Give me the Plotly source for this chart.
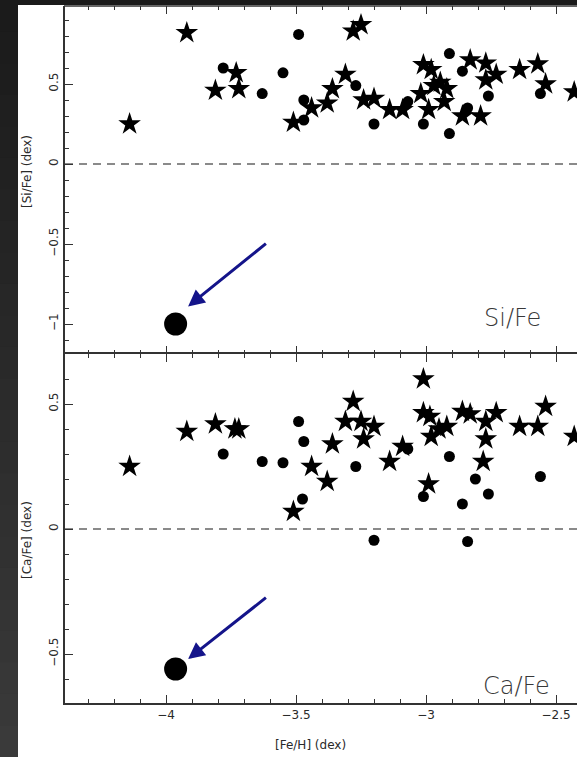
import plotly.graph_objects as go

# ---------------- data ----------------
# [Si/Fe] panel
si_star_feh = [-4.14, -3.92, -3.81, -3.73, -3.72, -3.51, -3.44, -3.38, -3.36, -3.28, -3.25,
               -3.31, -3.24, -3.20, -3.14, -3.09, -3.01, -2.98, -3.02, -2.97, -2.945, -2.92,
               -2.99, -2.93, -2.83, -2.77, -2.73, -2.77, -2.86, -2.79, -2.64, -2.57, -2.54, -2.43]
si_star_val = [0.25, 0.82, 0.46, 0.57, 0.47, 0.26, 0.35, 0.38, 0.47, 0.83, 0.87,
               0.56, 0.40, 0.41, 0.34, 0.34, 0.62, 0.59, 0.44, 0.49, 0.51, 0.47,
               0.34, 0.39, 0.65, 0.63, 0.56, 0.525, 0.30, 0.30, 0.59, 0.625, 0.50, 0.45]
si_circ_feh = [-3.49, -3.78, -3.55, -3.63, -3.47, -3.47, -3.27, -3.20, -3.07, -3.01,
               -2.91, -2.86, -2.91, -2.84, -2.76, -2.56]
si_circ_val = [0.81, 0.60, 0.57, 0.44, 0.40, 0.275, 0.49, 0.25, 0.39, 0.25,
               0.69, 0.58, 0.19, 0.35, 0.425, 0.44]

# [Ca/Fe] panel
ca_star_feh = [-4.14, -3.92, -3.81, -3.735, -3.72, -3.44, -3.38, -3.51, -3.36, -3.28, -3.31,
               -3.25, -3.20, -3.24, -3.14, -3.09, -3.01, -3.01, -2.985, -2.98, -2.95, -2.92,
               -2.99, -2.86, -2.83, -2.77, -2.73, -2.77, -2.78, -2.64, -2.57, -2.54, -2.43]
ca_star_val = [0.25, 0.39, 0.42, 0.40, 0.40, 0.25, 0.19, 0.07, 0.34, 0.51, 0.43,
               0.43, 0.41, 0.36, 0.27, 0.33, 0.60, 0.465, 0.45, 0.37, 0.40, 0.41,
               0.18, 0.47, 0.46, 0.43, 0.465, 0.36, 0.27, 0.41, 0.41, 0.49, 0.37]
ca_circ_feh = [-3.78, -3.63, -3.55, -3.49, -3.47, -3.475, -3.27, -3.07, -2.91, -3.01,
               -2.81, -2.86, -2.76, -2.56, -3.20, -2.84]
ca_circ_val = [0.30, 0.27, 0.265, 0.43, 0.35, 0.12, 0.25, 0.32, 0.29, 0.13,
               0.20, 0.10, 0.14, 0.21, -0.045, -0.05]

# highlighted star
hl_feh = [-3.963]
hl_si = [-1.0]
hl_ca = [-0.56]

x_ticks = [-4, -3.5, -3, -2.5]
si_ticks = [-1, -0.5, 0, 0.5]
ca_ticks = [-0.5, 0, 0.5]

# ---------------- layout geometry ----------------
W, H = 577, 757
ML, MR, MT, MB = 65, 0, 6, 54
PW, PH = W - ML - MR, H - MT - MB


def px(x):
    return (x - ML) / PW


def py(y):
    return (H - MB - y) / PH


split = py(354)

fig = go.Figure()

mk_star = dict(symbol="star", size=17, color="black", line=dict(width=0))
mk_circ = dict(symbol="circle", size=11, color="black", line=dict(width=0))
mk_big = dict(symbol="circle", size=23, color="black", line=dict(width=0))

fig.add_trace(go.Scatter(x=si_star_feh, y=si_star_val, mode="markers", marker=mk_star,
                         xaxis="x2", yaxis="y2", showlegend=False))
fig.add_trace(go.Scatter(x=si_circ_feh, y=si_circ_val, mode="markers", marker=mk_circ,
                         xaxis="x2", yaxis="y2", showlegend=False))
fig.add_trace(go.Scatter(x=hl_feh, y=hl_si, mode="markers", marker=mk_big,
                         xaxis="x2", yaxis="y2", showlegend=False))
fig.add_trace(go.Scatter(x=ca_star_feh, y=ca_star_val, mode="markers", marker=mk_star,
                         xaxis="x", yaxis="y", showlegend=False))
fig.add_trace(go.Scatter(x=ca_circ_feh, y=ca_circ_val, mode="markers", marker=mk_circ,
                         xaxis="x", yaxis="y", showlegend=False))
fig.add_trace(go.Scatter(x=hl_feh, y=hl_ca, mode="markers", marker=mk_big,
                         xaxis="x", yaxis="y", showlegend=False))

xr = [-4 - (166 - ML) / 260, -2.5 + (W - MR - 556) / 260]
axcol = "#333333"
tfont = dict(family="DejaVu Sans", size=12, color="#2a2a2a")

common_x = dict(range=xr, showgrid=False, zeroline=False, showline=True, linecolor=axcol,
                linewidth=1.5, mirror="ticks", ticks="inside", ticklen=8, tickwidth=1.2,
                tickcolor=axcol, tickvals=x_ticks,
                minor=dict(ticks="inside", ticklen=4, dtick=0.1, tick0=0, tickcolor=axcol,
                           tickwidth=1.2, showgrid=False),
                tickfont=tfont)
common_y = dict(showgrid=False, zeroline=False, showline=True, linecolor=axcol, linewidth=1.5,
                mirror=False, ticks="inside", ticklen=8, tickwidth=1.2, tickcolor=axcol,
                minor=dict(ticks="inside", ticklen=4, dtick=0.1, tick0=0, tickcolor=axcol,
                           tickwidth=1.2, showgrid=False),
                tickangle=-90, tickfont=tfont)

fig.update_layout(
    width=W, height=H,
    margin=dict(l=ML, r=MR, t=MT, b=MB, pad=0),
    paper_bgcolor="white", plot_bgcolor="white",
    xaxis=dict(common_x, anchor="y", domain=[0, 1]),
    xaxis2=dict(common_x, anchor="y2", domain=[0, 1], matches="x", showticklabels=False,
                showline=False),
    yaxis=dict(common_y, anchor="x", domain=[0, split],
               range=[-(703 - 529) / 250, (529 - 354) / 250], tickvals=ca_ticks),
    yaxis2=dict(common_y, anchor="x2", domain=[split, 1],
                range=[-(354 - 164) / 160, (164 - MT) / 160], tickvals=si_ticks),
)

shapes = []
# dark frame strips
shapes.append(dict(type="rect", xref="paper", yref="paper", x0=px(0), x1=px(W), y0=py(0),
                   y1=py(5), fillcolor="#1b1b1b", line=dict(width=0), layer="below"))
n = 24
for i in range(n):
    y0 = H * i / n
    y1 = H * (i + 1) / n + 1
    g = int(0x1b + (0x3a - 0x1b) * i / (n - 1))
    shapes.append(dict(type="rect", xref="paper", yref="paper", x0=px(0), x1=px(18),
                       y0=py(y1), y1=py(y0), fillcolor=f"rgb({g},{g},{g})",
                       line=dict(width=0), layer="below"))
# top frame line of upper panel
shapes.append(dict(type="line", xref="paper", yref="paper", x0=px(ML - 1), x1=1, y0=1, y1=1,
                   line=dict(color=axcol, width=1.5)))
# dashed zero lines
for yr in ["y", "y2"]:
    shapes.append(dict(type="line", xref="paper", yref=yr, x0=0, x1=1, y0=0, y1=0,
                       line=dict(color="#8a8a8a", width=1.8, dash="8px,6px"), layer="below"))
fig.update_layout(shapes=shapes)

ann = []
# arrows
ann.append(dict(x=-3.915, y=-0.89, ax=-3.61, ay=-0.49, xref="x2", yref="y2", axref="x2",
                ayref="y2", showarrow=True, arrowhead=2, arrowsize=1.1, arrowwidth=3,
                arrowcolor="#14148a", text=""))
ann.append(dict(x=-3.915, y=-0.52, ax=-3.61, ay=-0.27, xref="x", yref="y", axref="x",
                ayref="y", showarrow=True, arrowhead=2, arrowsize=1.1, arrowwidth=3,
                arrowcolor="#14148a", text=""))
# panel labels
lblfont = dict(family="DejaVu Sans", size=24, color="#383838", weight=200)
ann.append(dict(x=px(512), y=py(318), xref="paper", yref="paper", text="Si/Fe",
                xanchor="center", yanchor="middle", showarrow=False, font=lblfont))
ann.append(dict(x=px(516), y=py(686), xref="paper", yref="paper", text="Ca/Fe",
                xanchor="center", yanchor="middle", showarrow=False, font=lblfont))
# axis titles
ann.append(dict(x=px(27), y=py(172), xref="paper", yref="paper", text="[Si/Fe] (dex)",
                xanchor="center", yanchor="middle", textangle=-90, showarrow=False, font=tfont))
ann.append(dict(x=px(27), y=py(540), xref="paper", yref="paper", text="[Ca/Fe] (dex)",
                xanchor="center", yanchor="middle", textangle=-90, showarrow=False, font=tfont))
ann.append(dict(x=px(310), y=py(745), xref="paper", yref="paper", text="[Fe/H] (dex)",
                xanchor="center", yanchor="middle", showarrow=False, font=tfont))
fig.update_layout(annotations=ann)

fig.write_html("out.html")
